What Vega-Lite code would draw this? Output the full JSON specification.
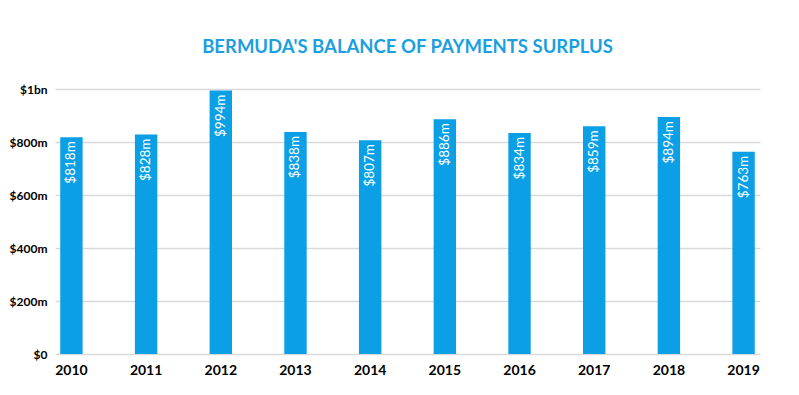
{
  "$schema": "https://vega.github.io/schema/vega-lite/v6.json",
  "width": 705,
  "height": 265,
  "autosize": {"type": "none"},
  "padding": {"left": 55, "top": 89, "right": 39, "bottom": 41},
  "background": "white",
  "title": {
    "text": "BERMUDA'S BALANCE OF PAYMENTS SURPLUS",
    "font": "Lato",
    "fontSize": 18.5,
    "fontWeight": "bold",
    "color": "#1C9FE0",
    "anchor": "middle",
    "offset": 27
  },
  "data": {
    "values": [
      {"year": "2010", "value": 818, "label": "$818m"},
      {"year": "2011", "value": 828, "label": "$828m"},
      {"year": "2012", "value": 994, "label": "$994m"},
      {"year": "2013", "value": 838, "label": "$838m"},
      {"year": "2014", "value": 807, "label": "$807m"},
      {"year": "2015", "value": 886, "label": "$886m"},
      {"year": "2016", "value": 834, "label": "$834m"},
      {"year": "2017", "value": 859, "label": "$859m"},
      {"year": "2018", "value": 894, "label": "$894m"},
      {"year": "2019", "value": 763, "label": "$763m"}
    ]
  },
  "config": {
    "view": {"stroke": null},
    "font": "Lato"
  },
  "encoding": {
    "x": {
      "field": "year",
      "type": "nominal",
      "scale": {"paddingInner": 0.7, "paddingOuter": 0.07},
      "axis": {
        "title": null,
        "labelAngle": 0,
        "labelFont": "Lato",
        "labelFontSize": 14,
        "labelFontWeight": "bold",
        "labelColor": "#000000",
        "labelPadding": 9,
        "ticks": false,
        "domain": false
      }
    },
    "y": {
      "field": "value",
      "type": "quantitative",
      "scale": {"domain": [0, 1000]},
      "axis": {
        "title": null,
        "values": [0, 200, 400, 600, 800, 1000],
        "labelExpr": "datum.value == 0 ? '$0' : datum.value == 1000 ? '$1bn' : '$' + datum.value + 'm'",
        "labelFont": "Lato",
        "labelFontSize": 12,
        "labelFontWeight": "bold",
        "labelColor": "#000000",
        "labelPadding": 8,
        "ticks": false,
        "domain": false,
        "gridColor": "#D9D9D9",
        "gridWidth": 1.5
      }
    }
  },
  "layer": [
    {"mark": {"type": "bar", "color": "#0BA0E6"}},
    {
      "mark": {
        "type": "text",
        "angle": 270,
        "align": "right",
        "baseline": "middle",
        "dx": -4,
        "color": "white",
        "font": "Lato",
        "fontSize": 13.5
      },
      "encoding": {"text": {"field": "label"}}
    }
  ]
}
